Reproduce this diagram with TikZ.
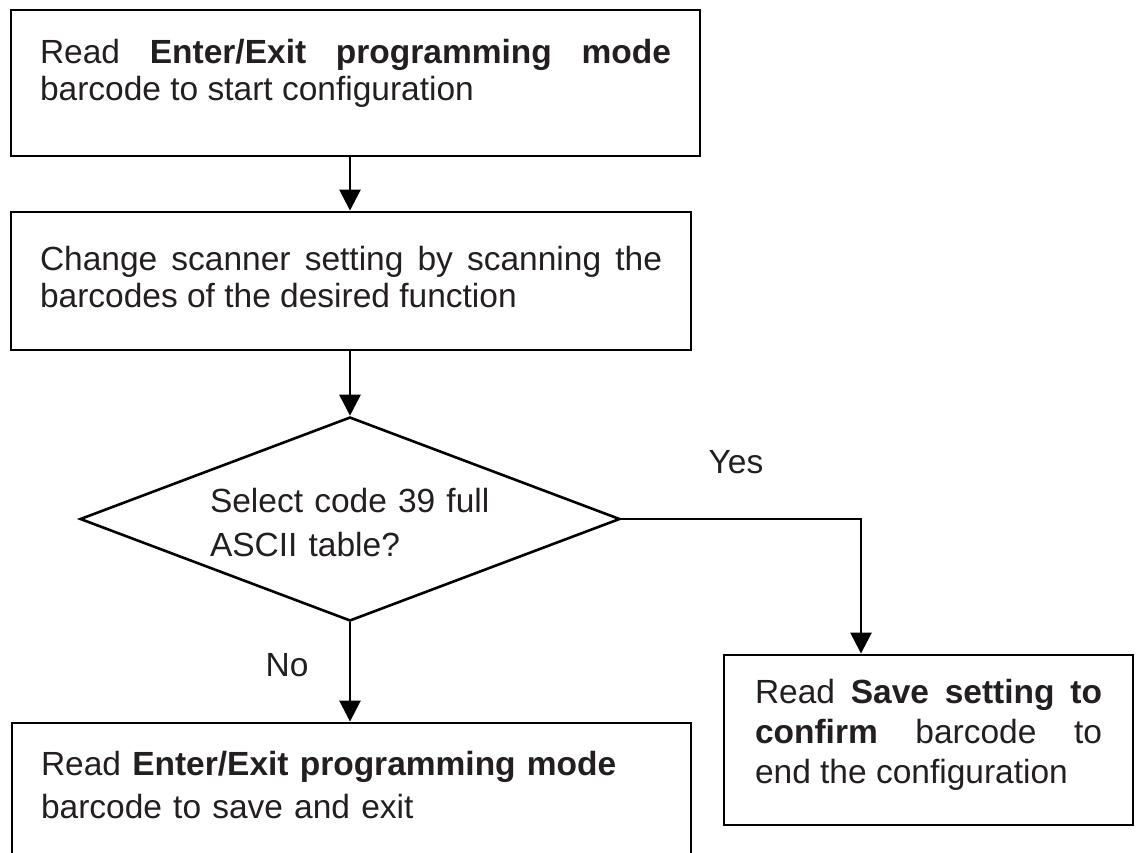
\documentclass[tikz,border=0pt]{standalone}
\usepackage{fontspec}
\setmainfont{Liberation Sans}
\usetikzlibrary{shapes.geometric,arrows.meta}
\definecolor{inkgray}{RGB}{35,31,32}
\hyphenpenalty=10000
\exhyphenpenalty=10000

\begin{document}
\begin{tikzpicture}[x=1pt,y=-1pt,
            stepbox/.style={draw,line width=2.9pt,rectangle,inner sep=0pt,text=inkgray,text height=25pt},
            decide/.style={draw,line width=2.6pt,diamond,aspect=2.65,inner sep=0pt,text=inkgray,text height=25pt},
            flow/.style={line width=2.7pt,-{Triangle[length=21pt,width=21pt]}},
            tag/.style={text=inkgray,anchor=base,font=\fontsize{33.5pt}{37pt}\selectfont}]
            \useasboundingbox (0,0) rectangle (1139,852);

            % boxes
            \node[stepbox,minimum width=689pt,minimum height=146pt,text width=631pt,align=justify,text depth=65pt,
                font=\fontsize{33.5pt}{37pt}\selectfont] (enter) at (355.5,83)
                {Read \textbf{Enter/Exit programming mode}\linebreak barcode to start configuration};
            \node[stepbox,minimum width=680pt,minimum height=138pt,text width=622pt,align=justify,text depth=47pt,
                font=\fontsize{33.5pt}{37pt}\selectfont] (scan) at (351,281)
                {Change scanner setting by scanning the\linebreak barcodes of the desired function};
            \node[decide,minimum width=540pt,minimum height=204pt,text width=280pt,align=left,text depth=39pt,
                font=\fontsize{33.5pt}{44pt}\selectfont] (decision) at (350,519)
                {Select code 39 full\\ASCII table?};
            \node[stepbox,minimum width=409pt,minimum height=170pt,text width=347pt,align=justify,text depth=99pt,
                font=\fontsize{33.5pt}{40pt}\selectfont] (confirm) at (928.5,740)
                {Read \textbf{Save setting to}\linebreak \textbf{confirm} barcode to\linebreak end the configuration};
            \node[stepbox,minimum width=679pt,minimum height=135pt,text width=621pt,align=left,text depth=56pt,
                font=\fontsize{33.5pt}{43pt}\selectfont] (save) at (351.5,790.5)
                {Read \textbf{Enter/Exit programming mode}\\barcode to save and exit};

            % arrows
            \coordinate (yesturn) at (861,519);
            \draw[flow] (enter.south -| decision.north) -- (scan.north -| decision.north);
            \draw[flow] (scan.south -| decision.north) -- (decision.north);
            \draw[flow] (decision.east) -- (yesturn) -- (yesturn |- confirm.north);
            \draw[flow] (decision.south) -- (decision.south |- save.north);

            \node[tag] (yes) at (736,473) {Yes};
            \node[tag] (no) at (287,676) {No};
\end{tikzpicture}
\end{document}
